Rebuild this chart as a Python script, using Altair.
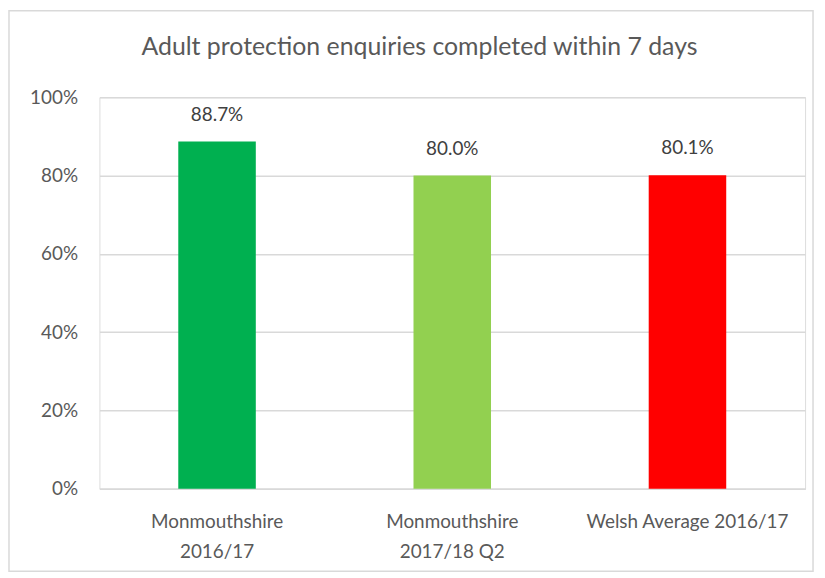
import altair as alt
import pandas as pd

title_text = "Adult protection enquiries completed within 7 days"
categories = ["Monmouthshire 2016/17", "Monmouthshire 2017/18 Q2", "Welsh Average 2016/17"]
values = [0.887, 0.800, 0.801]
labels = ["88.7%", "80.0%", "80.1%"]
colors = ["#00B050", "#92D050", "#FF0000"]

df = pd.DataFrame({"cat": categories, "val": values, "lab": labels, "col": colors})

FONT = "Lato"
W, H = 710, 394

x_enc = alt.X("cat:N", sort=categories, title=None,
              scale=alt.Scale(paddingInner=0.0, paddingOuter=0.0),
              axis=alt.Axis(labelAngle=0, ticks=False, domainColor="#D9D9D9", domainWidth=1.5,
                            labelFont=FONT, labelFontSize=19, labelColor="#595959",
                            labelPadding=24, labelLineHeight=30, labelLimit=300,
                            labelExpr="indexof(datum.label, 'Monmouthshire') == 0 ? ['Monmouthshire', substring(datum.label, 14)] : datum.label"))

bars = alt.Chart(df).mark_bar(size=78).encode(
    x=x_enc,
    y=alt.Y("val:Q", title=None,
            scale=alt.Scale(domain=[0, 1]),
            axis=alt.Axis(values=[0, 0.2, 0.4, 0.6, 0.8, 1.0], format=".0%", ticks=False, domain=False,
                          gridColor="#D9D9D9", gridWidth=1.5, labelFont=FONT, labelFontSize=19,
                          labelColor="#595959", labelPadding=22)),
    color=alt.Color("col:N", scale=None),
)

text = alt.Chart(df).mark_text(baseline="bottom", dy=-17, font=FONT, fontSize=19, color="#404040").encode(
    x=alt.X("cat:N", sort=categories),
    y="val:Q",
    text="lab:N",
)

deco_df = pd.DataFrame({"t": [title_text]})
border = alt.Chart(deco_df).mark_rect(fill=None, stroke="#D9D9D9", strokeWidth=1.5, clip=False).encode(
    x=alt.value(-91), x2=alt.value(718), y=alt.value(-87), y2=alt.value(477)
)
title = alt.Chart(deco_df).mark_text(font=FONT, fontSize=25, color="#595959", baseline="middle",
                                     align="center", clip=False).encode(
    x=alt.value(322), y=alt.value(-50), text="t:N"
)

chart = alt.layer(border, bars, text, title).properties(
    width=W, height=H,
    autosize=alt.AutoSizeParams(type="none"),
    padding={"left": 92, "top": 88, "right": 12, "bottom": 86},
).configure_view(stroke=None).configure(background="white")

chart.save("out.html", embed_options={"renderer": "svg", "actions": False})
